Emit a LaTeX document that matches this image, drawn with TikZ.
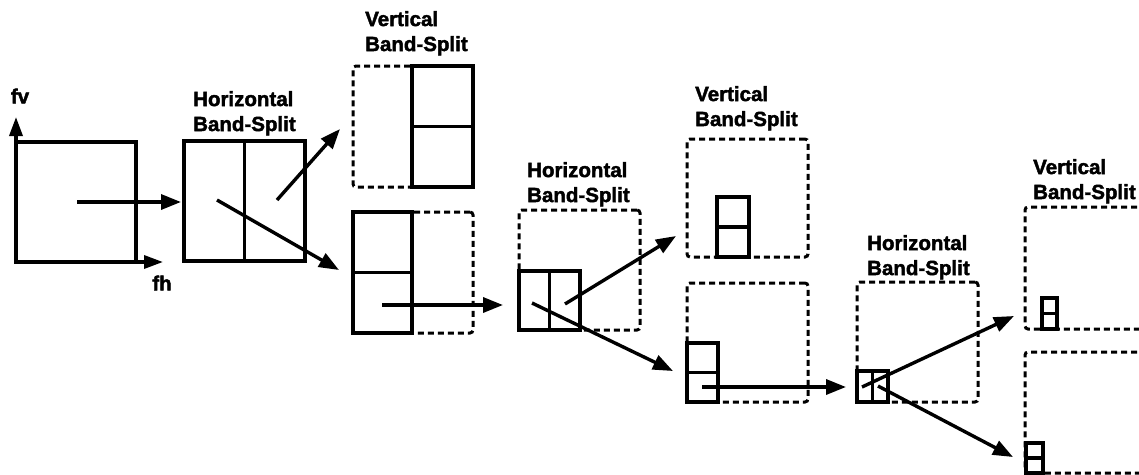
\documentclass[tikz,border=0pt]{standalone}
\usepackage{fontspec}
\setmainfont{Liberation Sans}[BoldFeatures={FakeBold=2}]
\usetikzlibrary{arrows.meta}
\begin{document}
\begin{tikzpicture}[x=1pt,y=-1pt,
  band/.style 2 args={draw,line width=3.2pt,inner sep=0pt,outer sep=0pt,
    minimum width=#1pt,minimum height=#2pt},
  dbox/.style 2 args={band={#1}{#2},line width=3pt,
    dash pattern=on 6pt off 4pt,rounded corners=3pt},
  divider/.style={line width=3.4pt},
  flow/.style={line width=3.4pt,-{Triangle[length=20pt,width=15pt]}},
  axis/.style={line width=3.4pt,-{Triangle[length=19pt,width=13pt]}},
  lbl/.style={inner sep=0pt,anchor=north west,align=left,
    font=\fontsize{20.5}{25}\selectfont\bfseries},
  axlbl/.style={inner sep=0pt,font=\fontsize{20.5}{25}\selectfont\bfseries}]
\useasboundingbox (0,0) rectangle (1139,474);
\fill[white] (0,0) rectangle (1139,474);

% frequency plane with its two axes
\coordinate (origin) at (16,262);
\coordinate (fvtip) at (16,117);
\coordinate (fhtip) at (163,262);
\node[band={120}{120}] (plane) at (76,202) {};
\draw[axis] (origin) -- (fvtip);
\draw[axis] (origin) -- (fhtip);
\node[axlbl] (fv) at (20,96) {fv};
\node[axlbl] (fh) at (162,283) {fh};

% first horizontal split
\node[band={121}{120}] (h1) at (244.5,201) {};
\draw[divider] (h1.north) -- (h1.south);
\node[lbl] (h1lbl) at (193,91) {Horizontal\\Band-Split};

% vertical split of the high and low horizontal halves
\node[dbox={120}{121}] (v1a) at (413,126.5) {};
\node[band={61}{121}] (v1as) at (442.5,126.5) {};
\draw[divider] (v1as.west) -- (v1as.east);
\node[lbl] (v1lbl) at (365,11) {Vertical\\Band-Split};

\node[dbox={120}{121}] (v1b) at (413,272.5) {};
\node[band={59}{121}] (v1bs) at (382.5,272.5) {};
\draw[divider] (v1bs.west) -- (v1bs.east);

% second horizontal split
\node[dbox={121}{120}] (h2) at (579.5,270) {};
\node[band={61}{59}] (h2s) at (549.5,300.5) {};
\draw[divider] (h2s.north) -- (h2s.south);
\node[lbl] (h2lbl) at (527,162) {Horizontal\\Band-Split};

% second vertical split
\node[dbox={121}{118}] (v2a) at (747.5,198) {};
\node[band={32}{60}] (v2as) at (733,227) {};
\draw[divider] (v2as.west) -- (v2as.east);
\node[lbl] (v2lbl) at (695,86) {Vertical\\Band-Split};

\node[dbox={121}{119}] (v2b) at (747.5,342.5) {};
\node[band={31}{59}] (v2bs) at (702.5,372.5) {};
\draw[divider] (v2bs.west) -- (v2bs.east);

% third horizontal split
\node[dbox={121}{120}] (h3) at (917.5,342) {};
\node[band={31}{31}] (h3s) at (872.5,386.5) {};
\draw[divider] (h3s.north) -- (h3s.south);
\node[lbl] (h3lbl) at (867,235) {Horizontal\\Band-Split};

% third vertical split, running off to the right
\node[dbox={145}{122}] (v3a) at (1097.5,268) {};
\node[band={15}{31}] (v3as) at (1049.5,313.5) {};
\draw[divider] (v3as.west) -- (v3as.east);
\node[lbl] (v3lbl) at (1033,159) {Vertical\\Band-Split};

\node[dbox={145}{121}] (v3b) at (1097.5,412.5) {};
\node[band={17}{30}] (v3bs) at (1034.5,458) {};
\draw[divider] (v3bs.west) -- (v3bs.east);

% arrows between the stages
\coordinate (s0) at (77,202);   \coordinate (e0) at (181,202);
\coordinate (s1u) at (277,200); \coordinate (e1u) at (340,129);
\coordinate (s1d) at (217,200); \coordinate (e1d) at (339,270);
\coordinate (s2) at (382,305);  \coordinate (e2) at (503,305);
\coordinate (s3u) at (565,304); \coordinate (e3u) at (676,236);
\coordinate (s3d) at (532,303); \coordinate (e3d) at (673,371);
\coordinate (s4) at (702,387);  \coordinate (e4) at (846,387);
\coordinate (s5u) at (862,387); \coordinate (e5u) at (1014,316);
\coordinate (s5d) at (878,386); \coordinate (e5d) at (1013,457);

\draw[flow] (s0) -- (e0);
\draw[flow] (s1u) -- (e1u);
\draw[flow] (s1d) -- (e1d);
\draw[flow] (s2) -- (e2);
\draw[flow] (s3u) -- (e3u);
\draw[flow] (s3d) -- (e3d);
\draw[flow] (s4) -- (e4);
\draw[flow] (s5u) -- (e5u);
\draw[flow] (s5d) -- (e5d);
\end{tikzpicture}
\end{document}
